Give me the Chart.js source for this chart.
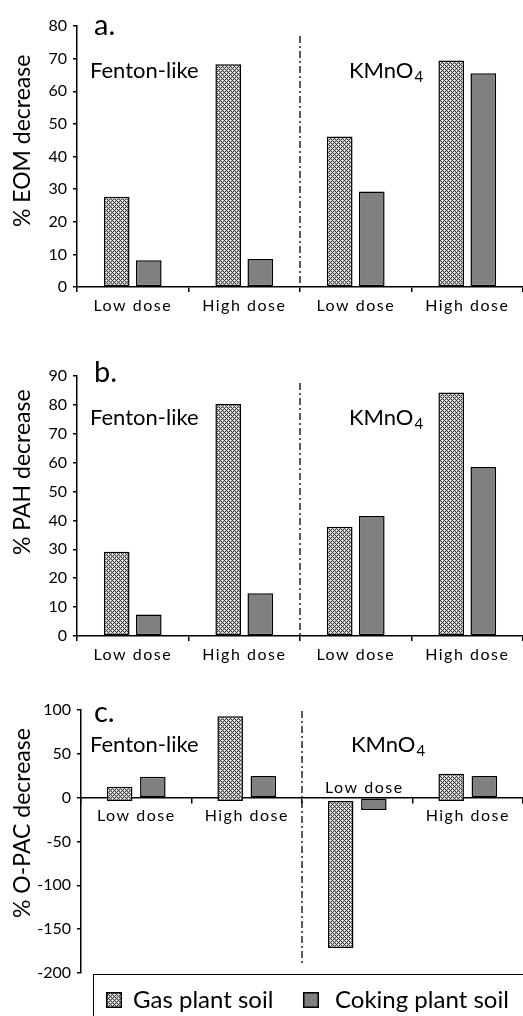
<!DOCTYPE html>
<html><head><meta charset="utf-8">
<script src="https://cdn.jsdelivr.net/npm/chart.js@4.4.0/dist/chart.umd.min.js"></script>
<style>
html,body{margin:0;padding:0;background:#fff;}
body{width:523px;height:1016px;overflow:hidden;position:relative;font-family:Lato,sans-serif;color:#000}
canvas.panel{position:absolute;left:0}
#legend{position:absolute;left:93px;top:974px;width:460px;height:70px;border:1.5px solid #000;box-sizing:border-box}
.lgicon{position:absolute;top:992px;width:16px;height:16px}
.lgtext{position:absolute;top:985px;font-size:24px;line-height:28px;white-space:nowrap}
</style></head>
<body>
<canvas id="cA" class="panel" width="523" height="320" style="top:0"></canvas>
<canvas id="cB" class="panel" width="523" height="330" style="top:340px"></canvas>
<canvas id="cC" class="panel" width="523" height="336" style="top:680px"></canvas>
<div id="legend"></div>
<canvas id="lg1" class="lgicon" width="16" height="16" style="left:106px"></canvas>
<div class="lgtext" id="lt1" style="left:133px"></div>
<canvas id="lg2" class="lgicon" width="16" height="16" style="left:303px"></canvas>
<div class="lgtext" id="lt2" style="left:335px"></div>
<script>
// ---- data ----
const categories = ['Low dose', 'High dose', 'Low dose', 'High dose'];
const seriesNames = ['Gas plant soil', 'Coking plant soil'];
const treatments = ['Fenton-like', 'KMnO'];
const eomGas = [27.7, 68.3, 46.1, 69.4];
const eomCoking = [8.2, 8.6, 29.3, 65.5];
const pahGas = [29.2, 80.3, 37.8, 84.3];
const pahCoking = [7.4, 14.8, 41.5, 58.5];
const opacGas = [12.5, 93, -171.5, 27.3];
const opacCoking = [24, 24.7, -14, 24.7];
const eomRange = [0, 80, 10];
const pahRange = [0, 90, 10];
const opacRange = [-200, 100, 50];

const FONT = 'Lato, "Open Sans", sans-serif';

function makePatternCanvas() {
  const c = document.createElement('canvas'); c.width = 4; c.height = 4;
  const x = c.getContext('2d');
  x.fillStyle = '#c4c4c4'; x.fillRect(0, 0, 4, 4);
  x.fillStyle = '#404040';
  for (let i = 0; i < 4; i++) for (let j = 0; j < 4; j++) {
    if ((i + j) % 4 === 0 || (i - j + 4) % 4 === 0) x.fillRect(i, j, 1, 1);
  }
  x.fillStyle = '#ffffff';
  x.fillRect(2, 0, 1, 1); x.fillRect(0, 2, 1, 1);
  return c;
}
const patCanvas = makePatternCanvas();
const gasFill = document.getElementById('cA').getContext('2d').createPattern(patCanvas, 'repeat');
const cokingFill = '#808080';

function decor(cfg) {
  return {
    id: 'decor' + cfg.letter,
    beforeDraw(chart) {
      const xs = chart.scales.x;
      if (!xs._ls) {
        const orig = xs.drawLabels;
        xs.drawLabels = function (a) { const c = this.ctx; c.save(); c.letterSpacing = '1.5px'; orig.call(this, a); c.restore(); };
        xs._ls = true;
      }
    },
    afterDraw(chart) {
      const { ctx, chartArea: ca, scales: { x, y } } = chart;
      ctx.save();
      ctx.fillStyle = '#000';
      ctx.textAlign = 'left';
      ctx.textBaseline = 'middle';
      // panel letter
      ctx.font = '29px ' + FONT;
      ctx.fillText(cfg.letter, 94, ca.top + cfg.letterDy);
      // treatment labels
      ctx.font = '22px ' + FONT;
      ctx.fillText(treatments[0], 90, ca.top + cfg.labelDy);
      const bx = (x.getPixelForValue(1) + x.getPixelForValue(2)) / 2;
      ctx.fillText(treatments[1], bx + 49, ca.top + cfg.labelDy);
      const w = ctx.measureText(treatments[1]).width;
      ctx.font = '15px ' + FONT;
      ctx.fillText('4', bx + 49 + w + 1, ca.top + cfg.labelDy + 6);
      // y title
      ctx.save();
      ctx.font = '23px ' + FONT;
      ctx.textAlign = 'center';
      ctx.translate(23, ca.top + cfg.titleFrac * (ca.bottom - ca.top));
      ctx.rotate(-Math.PI / 2);
      ctx.fillText(cfg.yTitle, 0, 0);
      ctx.restore();
      // dash-dot divider
      ctx.strokeStyle = '#000';
      ctx.lineWidth = 1.3;
      ctx.setLineDash([7, 3, 2, 3]);
      ctx.beginPath();
      ctx.moveTo(bx, ca.top + cfg.dashTop);
      ctx.lineTo(bx, ca.bottom - cfg.dashBottom);
      ctx.stroke();
      ctx.setLineDash([]);
      // raised label for the negative category
      if (cfg.zeroAxis) {
        ctx.font = '16px ' + FONT;
        ctx.letterSpacing = '1.5px';
        ctx.textAlign = 'center';
        ctx.textBaseline = 'middle';
        ctx.fillText(categories[2], x.getPixelForValue(2) + 7, y.getPixelForValue(0) - 10);
      }
      ctx.restore();
    }
  };
}

function build(id, cfg) {
  const xScale = {
    position: cfg.zeroAxis ? { y: 0 } : 'bottom',
    offset: true,
    grid: { display: true, drawOnChartArea: false, drawTicks: true, tickLength: 5, color: '#000', lineWidth: 1.5, offset: true },
    border: { display: true, color: '#000', width: 1.5 },
    ticks: {
      color: cfg.zeroAxis ? (c) => (c.index === 2 ? 'rgba(0,0,0,0)' : '#000') : '#000',
      font: { family: FONT, size: 16 }, padding: 4, autoSkip: false, maxRotation: 0
    },
    afterFit: (s) => { if (!cfg.zeroAxis) s.height = cfg.xHeight; }
  };
  const yScale = {
    min: cfg.range[0], max: cfg.range[1],
    ticks: { stepSize: cfg.range[2], color: '#000', font: { family: FONT, size: 16 }, padding: 6 },
    grid: { display: true, drawOnChartArea: false, drawTicks: true, tickLength: 4, color: '#000', lineWidth: 1.5 },
    border: { display: true, color: '#000', width: 1.5 },
    afterFit: (s) => { s.width = cfg.axisWidth; }
  };
  const gasDs = { label: seriesNames[0], data: cfg.gas, backgroundColor: gasFill, borderColor: '#000', borderWidth: 1.5, borderSkipped: false };
  if (cfg.gasBase !== undefined) gasDs.base = cfg.gasBase;
  return new Chart(document.getElementById(id), {
    type: 'bar',
    data: {
      labels: categories,
      datasets: [gasDs,
        { label: seriesNames[1], data: cfg.coking, backgroundColor: cokingFill, borderColor: '#000', borderWidth: 1.5, borderSkipped: false }]
    },
    options: {
      responsive: false, animation: false, devicePixelRatio: 1,
      layout: { padding: { top: cfg.padTop, bottom: cfg.padBottom, left: 0, right: 0 } },
      datasets: { bar: { categoryPercentage: cfg.catPct, barPercentage: cfg.barPct } },
      plugins: { legend: { display: false }, tooltip: { enabled: false } },
      scales: { x: xScale, y: yScale }
    },
    plugins: [decor(cfg)]
  });
}

build('cA', { gas: eomGas, coking: eomCoking, range: eomRange, yTitle: '% EOM decrease', letter: 'a.',
  padTop: 26, padBottom: 0, xHeight: 33, axisWidth: 77, catPct: 0.575, barPct: 0.8,
  letterDy: 0, labelDy: 45, titleFrac: 0.44, dashTop: 10, dashBottom: 0 });
build('cB', { gas: pahGas, coking: pahCoking, range: pahRange, yTitle: '% PAH decrease', letter: 'b.',
  padTop: 36, padBottom: 0, xHeight: 34, axisWidth: 77, catPct: 0.575, barPct: 0.8,
  letterDy: -3, labelDy: 42, titleFrac: 0.37, dashTop: 7, dashBottom: 0 });
build('cC', { gas: opacGas, coking: opacCoking, range: opacRange, yTitle: '% O-PAC decrease', letter: 'c.',
  padTop: 30, padBottom: 43, xHeight: 0, axisWidth: 81, catPct: 0.6, barPct: 0.77, zeroAxis: true, gasBase: -3.8,
  letterDy: 3, labelDy: 35, titleFrac: 0.43, dashTop: 1, dashBottom: 10 });

// legend
document.getElementById('lt1').textContent = seriesNames[0];
document.getElementById('lt2').textContent = seriesNames[1];
function icon(id, fill) {
  const c = document.getElementById(id).getContext('2d');
  c.fillStyle = fill; c.fillRect(0, 0, 16, 16);
  c.strokeStyle = '#000'; c.lineWidth = 1.5; c.strokeRect(0.75, 0.75, 14.5, 14.5);
}
icon('lg1', document.getElementById('lg1').getContext('2d').createPattern(patCanvas, 'repeat'));
icon('lg2', cokingFill);
</script>
</body></html>
